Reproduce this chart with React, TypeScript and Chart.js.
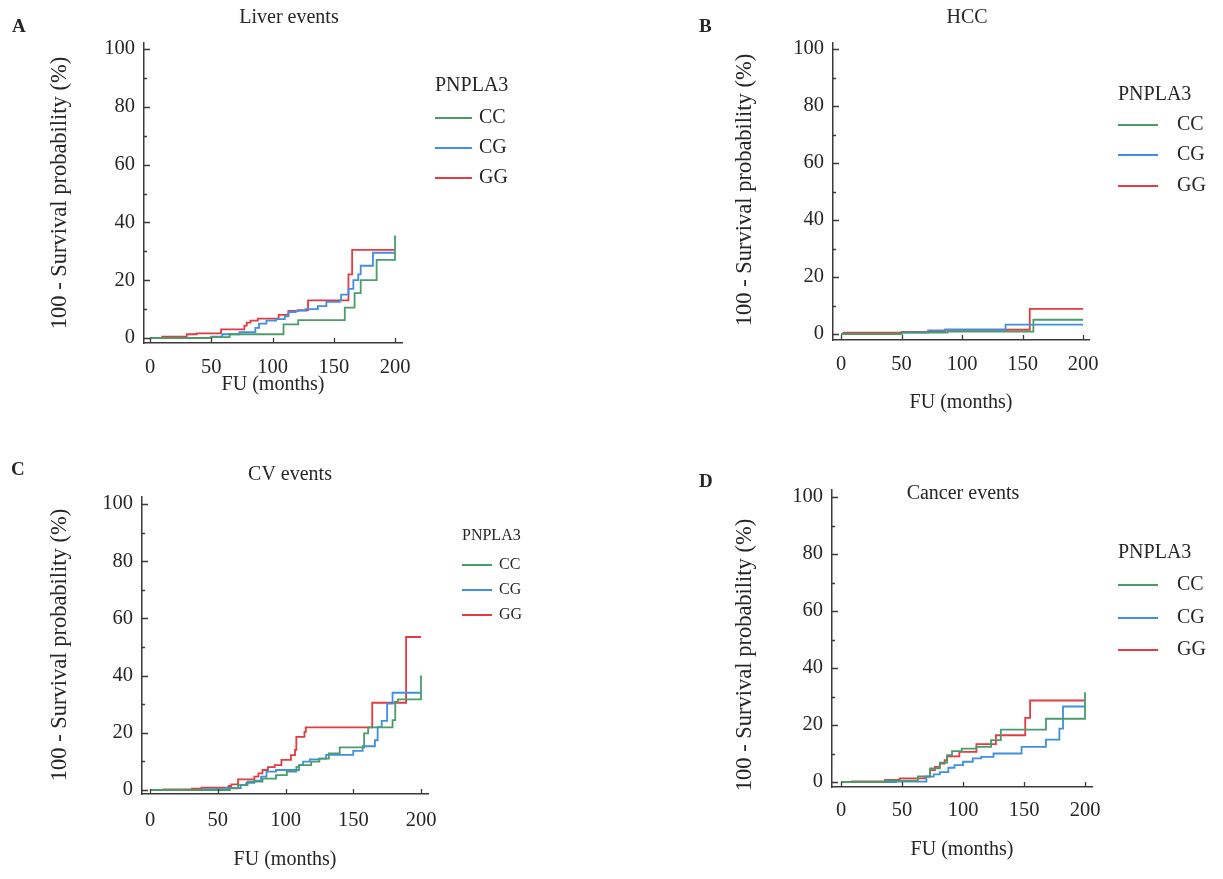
import React, { useEffect, useRef } from 'react';
import { Chart, registerables } from 'chart.js';

Chart.register(...registerables);

type Pt = [number, number];

// ---- text / labels ----
const panelLetters = ['A', 'B', 'C', 'D'];
const panelTitles = ['Liver events', 'HCC', 'CV events', 'Cancer events'];
const seriesNames = ['CC', 'CG', 'GG'];
const legendTitle = 'PNPLA3';
const xTitle = 'FU (months)';
const yTitle = '100 - Survival probability (%)';
const xTickStep = 50;
const yTickStep = 20;

// ---- data: [months, 100 - survival %] step points ----
const liverCC: Pt[] = [[0, 0], [50, 0.3], [65, 1.3], [109, 4.7], [121, 6.2], [159, 10.5], [167, 15.5], [172, 20], [185, 27], [200, 27], [200, 35.5]];
const liverCG: Pt[] = [[0, 0], [50, 0.5], [59, 1.3], [73, 2], [86, 3.5], [89, 5], [95, 6], [103, 6.5], [110, 7.5], [113, 9], [119, 9.5], [127, 10], [137, 11], [144, 12.5], [155, 13], [156, 15], [162, 17], [166, 20], [170, 22], [172, 25], [182, 29.5], [200, 29.5]];
const liverGG: Pt[] = [[0, 0], [10, 0.5], [30, 1.3], [38, 1.6], [58, 3], [77, 4.3], [79, 5.3], [82, 6], [88, 6.7], [105, 8], [113, 9.4], [121, 9.6], [129, 13], [160, 13], [162, 22], [165, 30.5], [200, 30.5]];

const hccCC: Pt[] = [[0, 0], [50, 0.5], [88, 0.8], [159, 5], [200, 5]];
const hccCG: Pt[] = [[0, 0], [50, 0.5], [72, 1.3], [86, 1.5], [136, 3.3], [200, 3.3]];
const hccGG: Pt[] = [[0, 0], [2, 0.5], [50, 0.7], [86, 1.5], [156, 8.8], [200, 8.8]];

const cvCC: Pt[] = [[0, 0], [59, 0.6], [65, 1.7], [72, 2.9], [83, 4], [93, 5.2], [101, 6.4], [108, 8.1], [110, 8.7], [119, 9.9], [125, 11], [132, 12.8], [140, 14.9], [158, 19.8], [161, 21.9], [179, 24.4], [181, 30.8], [183, 31.7], [200, 31.7], [200, 40]];
const cvCG: Pt[] = [[0, 0], [39, 0.3], [56, 0.7], [67, 1.7], [71, 2.5], [77, 3.3], [82, 4.7], [86, 6.4], [93, 7], [110, 8.7], [113, 9.9], [118, 10.7], [125, 11], [130, 12.3], [150, 13.7], [157, 15.3], [166, 17.4], [168, 22], [171, 24.2], [175, 30.2], [179, 34], [200, 34]];
const cvGG: Pt[] = [[0, 0], [10, 0.2], [31, 0.5], [38, 0.8], [58, 1.4], [60, 2], [65, 3.7], [77, 4.7], [80, 5.8], [83, 7], [87, 8], [92, 8.7], [97, 10.5], [104, 12.2], [107, 14], [108, 18.6], [114, 20.3], [115, 21.9], [164, 30.5], [189, 53.5], [200, 53.5]];

const cancerCC: Pt[] = [[0, 0], [36, 0.5], [63, 2], [73, 4.8], [81, 6.8], [87, 9.4], [91, 10.8], [99, 11.7], [111, 12.3], [123, 14.7], [131, 18.4], [168, 22.2], [200, 22.2], [200, 31.5]];
const cancerCG: Pt[] = [[0, 0], [45, 0.1], [70, 1.9], [76, 2.7], [81, 3.5], [88, 5], [93, 5.9], [100, 7.1], [108, 8.3], [115, 8.8], [125, 10], [148, 12.3], [168, 14.9], [179, 18.7], [182, 26.5], [200, 26.5]];
const cancerGG: Pt[] = [[0, 0], [9, 0.2], [36, 0.7], [48, 1.3], [69, 1.9], [73, 4.2], [77, 5.3], [81, 6.5], [85, 7.7], [87, 9], [97, 10.6], [111, 13.3], [127, 16.4], [151, 22.5], [155, 28.6], [200, 28.6]];

const panelSeries: Pt[][][] = [
  [liverCC, liverCG, liverGG],
  [hccCC, hccCG, hccGG],
  [cvCC, cvCG, cvGG],
  [cancerCC, cancerCG, cancerGG],
];

const COLORS = ['#4b9c6b', '#3f8fe2', '#e33b40'];
const FONT = '"Liberation Serif", "DejaVu Serif", serif';
const TEXT = '#262626';
const AXIS = '#3a3a3a';
const W = 1223;
const H = 879;

interface Layout {
  axisX: number; axisY: number; x0: number; x200: number; y0: number; y100: number;
  top: number; right: number;
  titleX: number; titleY: number; letterX: number; letterY: number;
  xTitleY: number; yTitleX: number; yTitleY: number; xPad: number; yPad: number;
  legX: number; legHeadY: number; legRows: number[]; legLen: number; legTextX: number; legFont: number;
}

const layouts: Layout[] = [
  { axisX: 144, axisY: 343, x0: 150, x200: 395, y0: 338, y100: 49, top: 43, right: 402,
    titleX: 289, titleY: 18, letterX: 18, letterY: 27, xTitleY: 385, yTitleX: 60, yTitleY: 193, xPad: 4, yPad: 1,
    legX: 435, legHeadY: 86, legRows: [118, 148, 178], legLen: 37, legTextX: 479, legFont: 20 },
  { axisX: 833, axisY: 340, x0: 841, x200: 1083, y0: 334, y100: 49, top: 43, right: 1089,
    titleX: 967, titleY: 18, letterX: 705, letterY: 27, xTitleY: 403, yTitleX: 745, yTitleY: 190, xPad: 4, yPad: 1,
    legX: 1118, legHeadY: 95, legRows: [125, 155, 186], legLen: 40, legTextX: 1177, legFont: 20 },
  { axisX: 142, axisY: 794, x0: 150, x200: 421, y0: 790, y100: 504, top: 497, right: 428,
    titleX: 290, titleY: 475, letterX: 17, letterY: 470, xTitleY: 860, yTitleX: 60, yTitleY: 645, xPad: 6, yPad: 1,
    legX: 462, legHeadY: 536, legRows: [565, 590, 615], legLen: 30, legTextX: 499, legFont: 16 },
  { axisX: 832, axisY: 787, x0: 841, x200: 1085, y0: 782, y100: 497, top: 490, right: 1092,
    titleX: 963, titleY: 494, letterX: 705, letterY: 482, xTitleY: 850, yTitleX: 745, yTitleY: 655, xPad: 3, yPad: 1,
    legX: 1118, legHeadY: 553, legRows: [585, 618, 650], legLen: 40, legTextX: 1177, legFont: 20 },
];

function makeConfig(idx: number): any {
  const L = layouts[idx];
  const sx = (L.x200 - L.x0) / 200;
  const sy = (L.y0 - L.y100) / 100;
  const xmin = (L.axisX - L.x0) / sx;
  const xmax = (L.right - L.x0) / sx;
  const ymin = (L.y0 - L.axisY) / sy;
  const ymax = (L.y0 - L.top) / sy;

  const decor = {
    id: 'decor' + idx,
    afterDraw(chart: any) {
      const ctx = chart.ctx as CanvasRenderingContext2D;
      const xs = chart.scales.x;
      const ys = chart.scales.y;
      const area = chart.chartArea;
      ctx.save();
      // inside tick marks
      ctx.strokeStyle = AXIS;
      ctx.lineWidth = 1.3;
      ctx.beginPath();
      ys.ticks.forEach((t: any) => {
        const p = Math.round(ys.getPixelForValue(t.value)) + 0.5;
        ctx.moveTo(area.left, p);
        ctx.lineTo(area.left + 6, p);
        const mid = t.value + yTickStep / 2;
        if (mid < ymax) {
          const pm = Math.round(ys.getPixelForValue(mid)) + 0.5;
          ctx.moveTo(area.left, pm);
          ctx.lineTo(area.left + 3, pm);
        }
      });
      xs.ticks.forEach((t: any) => {
        const p = Math.round(xs.getPixelForValue(t.value)) + 0.5;
        ctx.moveTo(p, area.bottom);
        ctx.lineTo(p, area.bottom - 5);
      });
      ctx.stroke();

      ctx.fillStyle = TEXT;
      ctx.textAlign = 'center';
      ctx.textBaseline = 'middle';
      // panel title
      ctx.font = `20px ${FONT}`;
      ctx.fillText(panelTitles[idx], L.titleX, L.titleY);
      // x title
      ctx.fillText(xTitle, (area.left + area.right) / 2, L.xTitleY);
      // y title
      ctx.save();
      ctx.translate(L.yTitleX, L.yTitleY);
      ctx.rotate(-Math.PI / 2);
      ctx.font = `22.5px ${FONT}`;
      ctx.fillText(yTitle, 0, 0);
      ctx.restore();
      // letter
      ctx.font = `bold 19px ${FONT}`;
      ctx.textAlign = 'left';
      ctx.fillText(panelLetters[idx], L.letterX - 6, L.letterY);
      // legend
      ctx.font = `${L.legFont}px ${FONT}`;
      ctx.fillText(legendTitle, L.legX, L.legHeadY);
      seriesNames.forEach((name, i) => {
        const y = L.legRows[i];
        ctx.strokeStyle = COLORS[i];
        ctx.lineWidth = 2;
        ctx.beginPath();
        ctx.moveTo(L.legX, y);
        ctx.lineTo(L.legX + L.legLen, y);
        ctx.stroke();
        ctx.fillStyle = TEXT;
        ctx.fillText(name, L.legTextX, y);
      });
      ctx.restore();
    },
  };

  return {
    type: 'line',
    data: {
      datasets: panelSeries[idx].map((pts, i) => ({
        label: seriesNames[i],
        data: pts.map(([x, y]) => ({ x, y })),
        borderColor: COLORS[i],
        backgroundColor: COLORS[i],
        borderWidth: 1.8,
        pointRadius: 0,
        stepped: 'before',
        fill: false,
      })),
    },
    options: {
      animation: false,
      responsive: false,
      events: [],
      layout: { padding: { left: 0, top: L.top, right: W - L.right, bottom: 0 } },
      plugins: { legend: { display: false }, tooltip: { enabled: false }, title: { display: false } },
      scales: {
        x: {
          type: 'linear',
          min: xmin,
          max: xmax,
          afterFit: (s: any) => { s.height = H - L.axisY; },
          grid: { display: false },
          border: { display: true, color: AXIS, width: 1.5 },
          ticks: {
            stepSize: xTickStep, includeBounds: false, autoSkip: false, maxRotation: 0,
            padding: L.xPad, color: TEXT, font: { family: FONT, size: 20.5 },
          },
        },
        y: {
          type: 'linear',
          min: ymin,
          max: ymax,
          afterFit: (s: any) => { s.width = L.axisX; },
          grid: { display: false },
          border: { display: true, color: AXIS, width: 1.5 },
          ticks: {
            stepSize: yTickStep, includeBounds: false, autoSkip: false,
            padding: L.yPad, color: TEXT, font: { family: FONT, size: 20.5 },
          },
        },
      },
    },
    plugins: [decor],
  };
}

function Panel({ idx }: { idx: number }) {
  const ref = useRef<HTMLCanvasElement | null>(null);
  useEffect(() => {
    if (!ref.current) return;
    const chart = new Chart(ref.current, makeConfig(idx));
    return () => chart.destroy();
  }, [idx]);
  return (
    <canvas
      ref={ref}
      width={W}
      height={H}
      style={{ position: 'absolute', left: 0, top: 0, width: W, height: H }}
    />
  );
}

export default function App() {
  return (
    <div style={{ position: 'absolute', left: 0, top: 0, width: W, height: H, background: '#fff', overflow: 'hidden' }}>
      {[0, 1, 2, 3].map((i) => (
        <Panel key={i} idx={i} />
      ))}
    </div>
  );
}
